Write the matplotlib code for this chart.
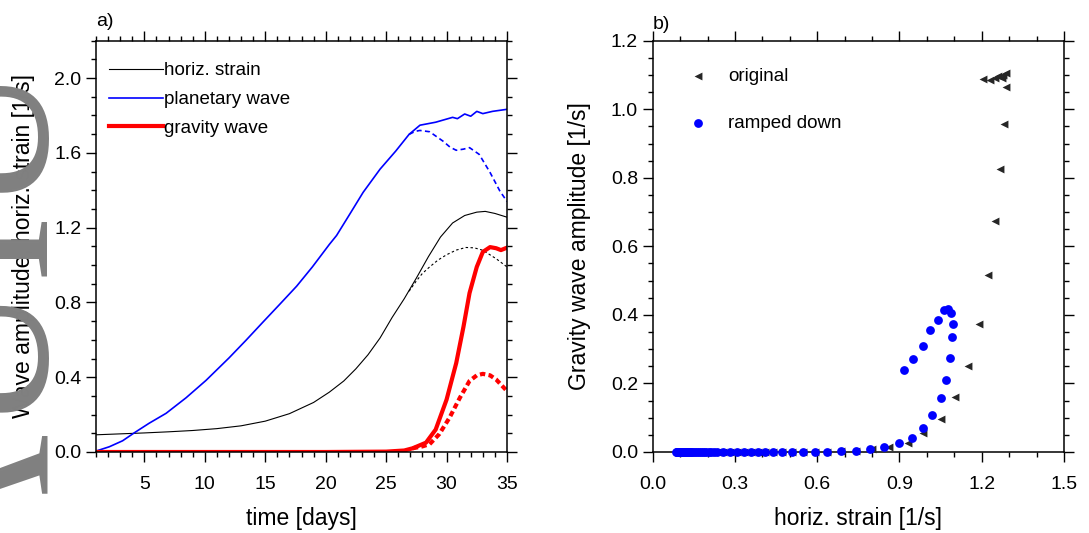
import matplotlib
matplotlib.use('Agg')
import matplotlib.pyplot as plt
from matplotlib.ticker import MultipleLocator

plt.rcParams['font.family'] = ['Liberation Sans', 'DejaVu Sans']

# ---- panel a) time series (days, amplitude) ----
strain_t = [1, 3, 5, 7, 9, 11, 13, 15, 17, 19, 20.3, 21.5, 22.5, 23.5, 24.5, 25.5,
            26.5, 27.5, 28.5, 29.5, 30.5, 31.5, 32.5, 33.2, 34.0, 35.0]
strain_v = [0.092, 0.097, 0.102, 0.108, 0.115, 0.125, 0.14, 0.165, 0.205, 0.265, 0.32,
            0.38, 0.445, 0.52, 0.61, 0.72, 0.82, 0.93, 1.045, 1.15, 1.225, 1.265,
            1.283, 1.287, 1.276, 1.256]
strain_rd_t = [26.9, 27.5, 28.0, 28.6, 29.3, 30.0, 30.8, 31.6, 32.3, 33.0, 34.1, 35.0]
strain_rd_v = [0.86, 0.915, 0.955, 0.99, 1.027, 1.055, 1.080, 1.094, 1.092, 1.079,
               1.034, 0.99]

pw_t = [1, 2.1, 3.2, 4.2, 5.4, 6.8, 8.45, 10.1, 12.0, 13.4, 14.8, 16.2, 17.6, 18.9,
        20.3, 20.9, 22.0, 23.1, 24.5, 25.8, 26.9, 27.8, 29.1, 30.5, 30.9, 31.5, 32.0,
        32.5, 33.0, 33.8, 35.0]
pw_v = [0.005, 0.028, 0.06, 0.104, 0.154, 0.207, 0.29, 0.383, 0.503, 0.597, 0.694,
        0.79, 0.887, 0.99, 1.11, 1.158, 1.273, 1.389, 1.513, 1.61, 1.699, 1.748, 1.764,
        1.79, 1.783, 1.808, 1.796, 1.822, 1.81, 1.822, 1.833]
pw_rd_t = [26.9, 27.4, 27.8, 28.6, 29.7, 30.3, 30.8, 31.4, 31.9, 32.7, 33.6, 34.4, 35.0]
pw_rd_v = [1.699, 1.715, 1.72, 1.713, 1.663, 1.63, 1.614, 1.62, 1.628, 1.592, 1.495,
           1.397, 1.34]

gw_t = [1, 10, 20, 25, 26.5, 27.2, 28.3, 29.1, 30.0, 30.8, 31.4, 31.9, 32.5, 33.0,
        33.6, 34.1, 34.5, 35.0]
gw_v = [0.0, 0.0, 0.0, 0.002, 0.008, 0.02, 0.05, 0.12, 0.28, 0.476, 0.67, 0.85, 0.99,
        1.07, 1.096, 1.09, 1.08, 1.093]
gw_rd_t = [27.2, 28.0, 28.6, 29.4, 30.25, 31.1, 31.9, 32.5, 33.0, 33.6, 34.1, 35.0]
gw_rd_v = [0.02, 0.03, 0.042, 0.096, 0.184, 0.29, 0.38, 0.41, 0.418, 0.41, 0.388, 0.326]

# ---- panel b) gravity wave amplitude vs horiz. strain ----
early_strain = [0.086, 0.088, 0.090, 0.092, 0.094, 0.096, 0.098, 0.100, 0.102, 0.104,
                0.106, 0.108, 0.111, 0.114, 0.117, 0.120, 0.123, 0.127, 0.131, 0.135,
                0.140, 0.145, 0.151, 0.157, 0.164, 0.171, 0.179, 0.187, 0.196, 0.205,
                0.214, 0.223, 0.233, 0.258, 0.282, 0.309, 0.333, 0.357, 0.384, 0.411,
                0.44, 0.473, 0.507, 0.547, 0.592, 0.637, 0.686]
early_gw = [0.0] * 45 + [0.001, 0.002]

orig_strain = early_strain + [0.740, 0.80, 0.863, 0.932, 0.987, 1.050, 1.102, 1.151,
                              1.190, 1.222, 1.248, 1.267, 1.281, 1.288, 1.288, 1.279,
                              1.273, 1.260, 1.248, 1.230, 1.206]
orig_gw = early_gw + [0.004, 0.008, 0.016, 0.027, 0.054, 0.096, 0.160, 0.252,
                      0.373, 0.516, 0.674, 0.825, 0.957, 1.066, 1.105, 1.100,
                      1.090, 1.097, 1.092, 1.085, 1.087]

ramp_strain = early_strain + [0.740, 0.794, 0.845, 0.898, 0.945, 0.985, 1.020, 1.050,
                              1.071, 1.083, 1.093, 1.096, 1.088, 1.077, 1.062, 1.039,
                              1.011, 0.985, 0.950, 0.916]
ramp_gw = early_gw + [0.004, 0.008, 0.015, 0.025, 0.042, 0.071, 0.109, 0.158,
                      0.210, 0.274, 0.336, 0.373, 0.405, 0.418, 0.413, 0.385,
                      0.356, 0.310, 0.272, 0.238]

fig = plt.figure(figsize=(10.89, 5.33), dpi=100)
ax1 = fig.add_axes([96 / 1089, 1 - 452 / 533, 411 / 1089, 411.3 / 533])
ax2 = fig.add_axes([652.7 / 1089, 1 - 452 / 533, 411.3 / 1089, 411.3 / 533])


def style(ax):
    for s in ax.spines.values():
        s.set_linewidth(1.1)
    ax.tick_params(which='both', direction='out', top=True, right=True, labelsize=14,
                   width=1.0)
    ax.tick_params(axis='x', which='major', pad=10)
    ax.tick_params(axis='y', which='major', pad=3)
    ax.tick_params(which='major', length=7.5)
    ax.tick_params(which='minor', length=3.5)


# a)
l1, = ax1.plot(strain_t, strain_v, color='black', lw=0.8)
ax1.plot(strain_rd_t, strain_rd_v, color='black', lw=0.8, dashes=(2.2, 2.2))
l2, = ax1.plot(pw_t, pw_v, color='#0000ff', lw=1.2)
ax1.plot(pw_rd_t, pw_rd_v, color='#0000ff', lw=1.2, dashes=(3, 2))
l3, = ax1.plot(gw_t, gw_v, color='#ff0000', lw=3.0)
ax1.plot(gw_rd_t, gw_rd_v, color='#ff0000', lw=3.0, dashes=(1.3, 0.8))
ax1.set_xlim(1, 35)
ax1.set_ylim(0, 2.2)
ax1.xaxis.set_major_locator(MultipleLocator(5))
ax1.xaxis.set_minor_locator(MultipleLocator(1))
ax1.yaxis.set_major_locator(MultipleLocator(0.4))
ax1.yaxis.set_minor_locator(MultipleLocator(0.1))
ax1.yaxis.set_major_formatter(lambda v, p: f'{v:.1f}')
ax1.set_xticks([5, 10, 15, 20, 25, 30, 35])
style(ax1)
ax1.set_xlabel('time [days]', fontsize=16.5, labelpad=10)
ax1.set_ylabel('Wave amplitude, horiz. strain [1/s]', fontsize=16.5, labelpad=14)
ax1.legend([l1, l2, l3], ['horiz. strain', 'planetary wave', 'gravity wave'],
           loc='upper left', bbox_to_anchor=(0.004, 0.975), frameon=False, fontsize=13.5,
           handlelength=2.9, handletextpad=0.05, labelspacing=0.62, borderaxespad=0.2)
ax1.text(0.0, 1.025, 'a)', transform=ax1.transAxes, fontsize=14, ha='left', va='bottom')

# b)
ax2.scatter(orig_strain, orig_gw, marker='<', s=32, color='#262626', lw=0, zorder=3,
            clip_on=False, label='original')
ax2.scatter(ramp_strain, ramp_gw, marker='o', s=40, color='#0000ff', lw=0, zorder=4,
            clip_on=False, label='ramped down')
ax2.set_xlim(0, 1.5)
ax2.set_ylim(0, 1.2)
ax2.xaxis.set_major_locator(MultipleLocator(0.3))
ax2.xaxis.set_minor_locator(MultipleLocator(0.1))
ax2.yaxis.set_major_locator(MultipleLocator(0.2))
ax2.yaxis.set_minor_locator(MultipleLocator(0.05))
ax2.xaxis.set_major_formatter(lambda v, p: f'{v:.1f}')
ax2.yaxis.set_major_formatter(lambda v, p: f'{v:.1f}')
style(ax2)
ax2.set_xlabel('horiz. strain [1/s]', fontsize=16.5, labelpad=10)
ax2.set_ylabel('Gravity wave amplitude [1/s]', fontsize=16.5, labelpad=14)
ax2.legend(loc='upper left', bbox_to_anchor=(0.06, 0.962), frameon=False, fontsize=13.5,
           handlelength=1.0, handletextpad=1.1, labelspacing=1.6, scatterpoints=1,
           borderaxespad=0.2)
ax2.text(0.0, 1.018, 'b)', transform=ax2.transAxes, fontsize=14, ha='left', va='bottom')

# grey watermark cut at the left edge
fig.text(46 / 1089, 1 - 582 / 533, 'AUIU', rotation=90, rotation_mode='anchor',
         ha='left', va='baseline', fontsize=150, color='#808080',
         family=['Liberation Serif', 'DejaVu Serif'], zorder=10)

fig.savefig('out.png', dpi=100)
